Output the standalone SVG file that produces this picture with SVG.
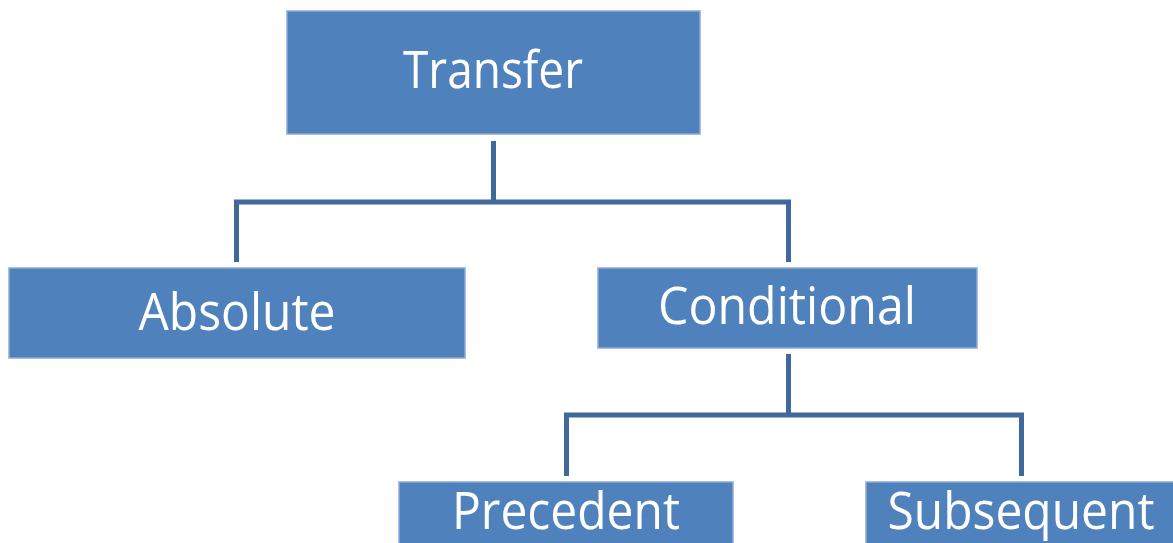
<svg xmlns="http://www.w3.org/2000/svg" width="1173" height="543" viewBox="0 0 1173 543">
<style>
.box{fill:#4F81BD;stroke:#8EAAD6;stroke-width:1.5}
.lbl{fill:#FFFFFF;font-family:"Open Sans","Noto Sans","Liberation Sans",sans-serif;font-size:51px;text-anchor:middle}
.con{fill:none;stroke:#41689A;stroke-width:5;stroke-linejoin:miter;stroke-linecap:butt}
</style>
<rect width="1173" height="543" fill="#FFFFFF"/>
<g id="connectors">
<path class="con" d="M493.5,141 V202 M236.5,262 V202 H788.5 V262"/>
<path class="con" d="M788.5,354 V415 M566.5,476 V415 H1021.5 V476"/>
</g>
<g id="transfer">
<rect class="box" x="287" y="11" width="413" height="123"/>
<text class="lbl" x="493" y="88" textLength="180" lengthAdjust="spacingAndGlyphs">Transfer</text>
</g>
<g id="absolute">
<rect class="box" x="9" y="268" width="456" height="90"/>
<text class="lbl" x="237" y="330" textLength="197" lengthAdjust="spacingAndGlyphs">Absolute</text>
</g>
<g id="conditional">
<rect class="box" x="598" y="268" width="379" height="80"/>
<text class="lbl" x="787" y="324" textLength="258" lengthAdjust="spacingAndGlyphs">Conditional</text>
</g>
<g id="precedent">
<rect class="box" x="399" y="482" width="334" height="70"/>
<text class="lbl" x="566" y="529" textLength="228" lengthAdjust="spacingAndGlyphs">Precedent</text>
</g>
<g id="subsequent">
<rect class="box" x="866" y="482" width="320" height="70"/>
<text class="lbl" x="1021" y="529" textLength="267" lengthAdjust="spacingAndGlyphs">Subsequent</text>
</g>
</svg>
